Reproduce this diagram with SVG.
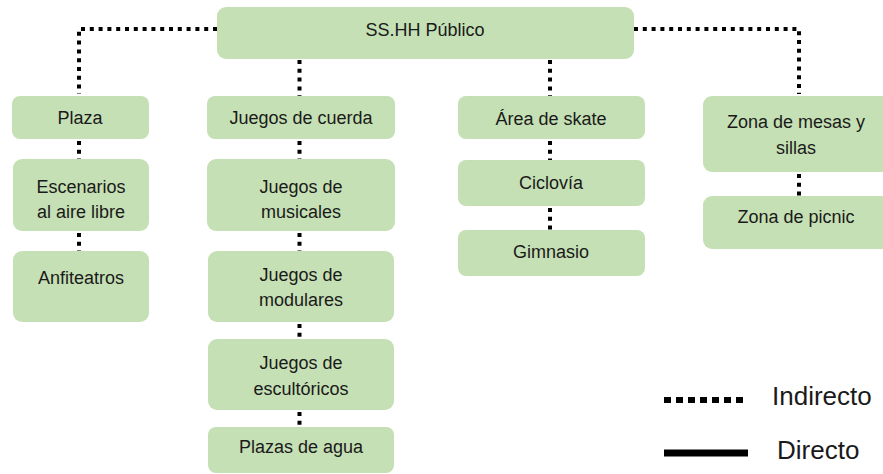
<svg xmlns="http://www.w3.org/2000/svg" width="883" height="474" viewBox="0 0 883 474">
<style>
.box{fill:#c5e0b4;}
.t{font-family:"Liberation Sans",Arial,sans-serif;font-size:18px;fill:#1a1a1a;text-anchor:middle;}
.lg{font-family:"Liberation Sans",Arial,sans-serif;font-size:26px;fill:#1a1a1a;}
.dot{fill:none;stroke:#000;stroke-width:4;stroke-dasharray:4 4.8;}
</style>
<rect width="883" height="474" fill="#fff"/>
<g id="connectors">
<path class="dot" d="M217,29 H79 V94"/>
<path class="dot" d="M634,29 H799 V94"/>
<path class="dot" d="M299.5,60 V96"/>
<path class="dot" d="M550,60 V96"/>
<path class="dot" d="M79,141 V159"/>
<path class="dot" d="M79,233 V251"/>
<path class="dot" d="M299.5,141 V159"/>
<path class="dot" d="M299.5,233 V251"/>
<path class="dot" d="M299.5,324 V339"/>
<path class="dot" d="M299.5,412 V427"/>
<path class="dot" d="M550,141 V160"/>
<path class="dot" d="M550,208 V230"/>
<path class="dot" d="M799,174 V196"/>
</g>
<g id="n-root"><rect class="box" x="217" y="7" width="417" height="52" rx="9"/><text class="t" x="425" y="36">SS.HH Público</text></g>
<g id="n-plaza"><rect class="box" x="12" y="96" width="137" height="43" rx="8"/><text class="t" x="80" y="124">Plaza</text></g>
<g id="n-escenarios"><rect class="box" x="13" y="159" width="136" height="72" rx="9"/><text class="t" x="81" y="193">Escenarios</text><text class="t" x="81" y="218">al aire libre</text></g>
<g id="n-anfiteatros"><rect class="box" x="13" y="251" width="136" height="71" rx="9"/><text class="t" x="81" y="284">Anfiteatros</text></g>
<g id="n-cuerda"><rect class="box" x="207" y="96" width="188" height="43" rx="8"/><text class="t" x="301" y="124">Juegos de cuerda</text></g>
<g id="n-musicales"><rect class="box" x="207" y="159" width="188" height="72" rx="9"/><text class="t" x="301" y="193">Juegos de</text><text class="t" x="301" y="218">musicales</text></g>
<g id="n-modulares"><rect class="box" x="208" y="251" width="186" height="71" rx="9"/><text class="t" x="301" y="281">Juegos de</text><text class="t" x="301" y="306">modulares</text></g>
<g id="n-escultoricos"><rect class="box" x="208" y="339" width="186" height="71" rx="9"/><text class="t" x="301" y="369">Juegos de</text><text class="t" x="301" y="395">escultóricos</text></g>
<g id="n-agua"><rect class="box" x="208" y="427" width="186" height="46" rx="8"/><text class="t" x="301" y="453">Plazas de agua</text></g>
<g id="n-skate"><rect class="box" x="458" y="96" width="187" height="43" rx="8"/><text class="t" x="551" y="125">Área de skate</text></g>
<g id="n-ciclovia"><rect class="box" x="458" y="160" width="187" height="46" rx="8"/><text class="t" x="551" y="189">Ciclovía</text></g>
<g id="n-gimnasio"><rect class="box" x="458" y="230" width="187" height="46" rx="8"/><text class="t" x="551" y="258">Gimnasio</text></g>
<g id="n-mesas"><rect class="box" x="703" y="96" width="190" height="76" rx="9"/><text class="t" x="796" y="128">Zona de mesas y</text><text class="t" x="796" y="154">sillas</text></g>
<g id="n-picnic"><rect class="box" x="703" y="196" width="190" height="53" rx="9"/><text class="t" x="796" y="223">Zona de picnic</text></g>
<g id="legend">
<line x1="664" y1="400" x2="748" y2="400" stroke="#000" stroke-width="6" stroke-dasharray="7 5"/>
<line x1="664" y1="453" x2="748" y2="453" stroke="#000" stroke-width="7"/>
<text class="lg" x="772" y="405">Indirecto</text>
<text class="lg" x="777" y="459">Directo</text>
</g>
</svg>
